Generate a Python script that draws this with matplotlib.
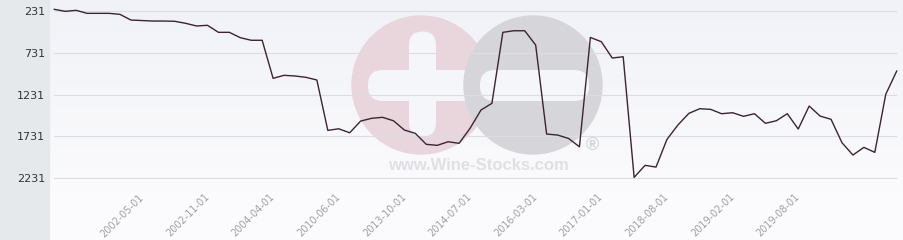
import matplotlib.pyplot as plt
import numpy as np
from matplotlib.patches import Circle, FancyBboxPatch, Rectangle

# Data (rank-like values, axis is inverted)
values = [211, 235, 223, 259, 259, 259, 271, 339, 345, 351,
          351, 354, 378, 410, 402, 486, 486, 550, 581, 581,
          1036, 1000, 1008, 1024, 1056, 1658, 1639, 1687, 1547, 1514,
          1502, 1543, 1654, 1694, 1825, 1837, 1794, 1813, 1634, 1415,
          1335, 486, 467, 467, 638, 1702, 1714, 1754, 1854, 547,
          598, 793, 778, 2220, 2076, 2097, 1766, 1594, 1455, 1399,
          1407, 1459, 1447, 1490, 1459, 1574, 1543, 1459, 1642, 1367,
          1487, 1526, 1806, 1953, 1861, 1921, 1227, 949]
tick_index = [8, 14, 20, 26, 32, 38, 44, 50, 56, 62, 68]
tick_labels = ['2002-05-01', '2002-11-01', '2004-04-01', '2010-06-01',
               '2013-10-01', '2014-07-01', '2016-03-01', '2017-01-01',
               '2018-08-01', '2019-02-01', '2019-08-01']
y_ticks = [231, 731, 1231, 1731, 2231]

W, H = 904, 240
fig = plt.figure(figsize=(W / 100, H / 100), dpi=100)
fig.patch.set_facecolor('#fafbfc')

# Left grey panel
fig.patches.append(Rectangle((0, 0), 49 / W, 1, transform=fig.transFigure,
                             color='#e6e9ec', zorder=0))

# Plot background gradient
bg = fig.add_axes([49 / W, 0, 1 - 49 / W, 1], zorder=0)
grad = np.linspace(0, 1, 240)
top = np.array([241, 242, 247]) / 255
bot = np.array([251, 251, 253]) / 255
img = top[None, :] + (bot - top)[None, :] * np.clip(grad / 0.8, 0, 1)[:, None]
bg.imshow(img[:, None, :], aspect='auto', extent=[0, 1, 1, 0])
bg.axis('off')

# Watermark in pixel coordinates
wm = fig.add_axes([0, 0, 1, 1], zorder=1)
wm.set_xlim(0, W)
wm.set_ylim(H, 0)
wm.axis('off')
hole = '#f5f6f9'
wm.add_patch(Circle((421, 85), 69, color='#e9d6dc'))
wm.add_patch(FancyBboxPatch((409, 31.5), 27, 105, boxstyle='round,pad=0,rounding_size=13.5',
                            color=hole, lw=0))
wm.add_patch(FancyBboxPatch((368, 70), 109, 31, boxstyle='round,pad=0,rounding_size=15',
                            color=hole, lw=0))
wm.add_patch(Circle((533, 85), 69, color='#d6d6da'))
wm.add_patch(FancyBboxPatch((480, 70), 109, 31, boxstyle='round,pad=0,rounding_size=15',
                            color=hole, lw=0))
wm.text(592, 145, '®', fontsize=13, color='#d4d4d8', ha='center', va='center',
        family='Liberation Sans', fontweight='bold')
wm.text(478, 166, 'www.Wine-Stocks.com', fontsize=12, color='#e0e0e4', ha='center',
        va='center', family='Liberation Sans', fontweight='bold')

# Main chart axes: grid 231 at y=11px, 2231 at y=178.3px
left, right, bottom_px = 54.3, 896.7, 190
ax = fig.add_axes([left / W, (H - bottom_px) / H, (right - left) / W, bottom_px / H], zorder=2)
ax.patch.set_alpha(0)
per_unit = (178.3 - 11) / 2000
ax.set_ylim(231 + (bottom_px - 11) / per_unit, 231 - 11 / per_unit)
ax.set_xlim(0, len(values) - 1)

x = np.arange(len(values))
ax.plot(x, values, color='#3b2433', lw=1.0, clip_on=False, zorder=3)

ax.set_yticks(y_ticks)
ax.set_yticklabels([str(v) for v in y_ticks])
ax.yaxis.grid(True, color='#dcdde2', lw=0.8)
ax.set_axisbelow(True)
ax.tick_params(axis='y', length=0, pad=6.7, labelsize=8, labelcolor='#333333')

ax.set_xticks(tick_index)
ax.set_xticklabels(tick_labels, rotation=45, ha='right', va='center',
                   rotation_mode='anchor')
ax.tick_params(axis='x', length=0, pad=4, labelsize=7, labelcolor='#a0a0a0')

for s in ax.spines.values():
    s.set_visible(False)

plt.savefig('out.png', dpi=100, facecolor=fig.get_facecolor())
